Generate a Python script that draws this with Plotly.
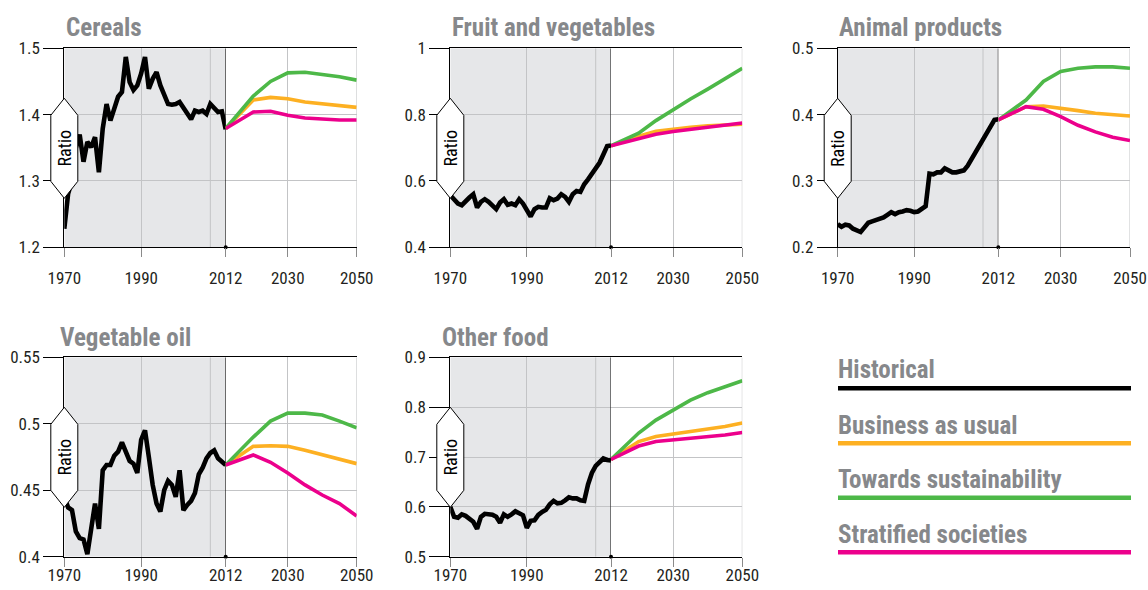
import plotly.graph_objects as go

# ---------------------------------------------------------------- data
hist_years = list(range(1970, 2013))
proj_years = [2012, 2020, 2025, 2030, 2035, 2040, 2045, 2050]

cereals_hist = [1.228, 1.281, 1.300, 1.350, 1.370, 1.329, 1.359, 1.351, 1.366, 1.313,
                1.379, 1.416, 1.391, 1.409, 1.427, 1.434, 1.487, 1.449, 1.437, 1.444,
                1.462, 1.487, 1.439, 1.454, 1.464, 1.444, 1.432, 1.416, 1.415, 1.416,
                1.419, 1.411, 1.401, 1.393, 1.406, 1.404, 1.406, 1.401, 1.416, 1.409,
                1.404, 1.405, 1.378]
cereals_bau = [1.379, 1.422, 1.426, 1.424, 1.419, 1.416, 1.413, 1.411]
cereals_sus = [1.379, 1.428, 1.450, 1.463, 1.464, 1.461, 1.457, 1.452]
cereals_strat = [1.379, 1.404, 1.405, 1.399, 1.395, 1.393, 1.392, 1.392]

fruitveg_hist = [0.557, 0.545, 0.532, 0.527, 0.540, 0.550, 0.560, 0.520, 0.537, 0.545,
                 0.537, 0.525, 0.515, 0.535, 0.545, 0.528, 0.532, 0.527, 0.545, 0.532,
                 0.515, 0.493, 0.515, 0.522, 0.520, 0.520, 0.548, 0.542, 0.547, 0.560,
                 0.552, 0.537, 0.560, 0.570, 0.567, 0.590, 0.605, 0.622, 0.640, 0.655,
                 0.680, 0.705, 0.707]
fruitveg_bau = [0.706, 0.735, 0.750, 0.757, 0.762, 0.766, 0.769, 0.771]
fruitveg_sus = [0.706, 0.744, 0.782, 0.816, 0.847, 0.877, 0.908, 0.940]
fruitveg_strat = [0.706, 0.728, 0.741, 0.749, 0.756, 0.763, 0.769, 0.775]

animal_hist = [0.235, 0.231, 0.234, 0.233, 0.228, 0.225, 0.223, 0.230, 0.237, 0.239,
               0.241, 0.242, 0.245, 0.249, 0.253, 0.250, 0.253, 0.254, 0.256, 0.255,
               0.253, 0.254, 0.258, 0.262, 0.311, 0.310, 0.313, 0.313, 0.319, 0.315,
               0.313, 0.313, 0.314, 0.316, 0.323, 0.333, 0.342, 0.355, 0.362, 0.374,
               0.383, 0.392, 0.393]
animal_bau = [0.392, 0.412, 0.413, 0.410, 0.406, 0.402, 0.400, 0.398]
animal_sus = [0.392, 0.422, 0.450, 0.465, 0.470, 0.472, 0.472, 0.470]
animal_strat = [0.392, 0.412, 0.408, 0.397, 0.384, 0.374, 0.366, 0.361]

vegoil_hist = [0.445, 0.437, 0.435, 0.419, 0.414, 0.413, 0.402, 0.420, 0.440, 0.421,
               0.465, 0.469, 0.469, 0.476, 0.479, 0.486, 0.479, 0.472, 0.470, 0.463,
               0.488, 0.495, 0.475, 0.454, 0.440, 0.434, 0.450, 0.457, 0.454, 0.445,
               0.465, 0.435, 0.439, 0.442, 0.448, 0.462, 0.467, 0.474, 0.478, 0.480,
               0.474, 0.472, 0.469]
vegoil_bau = [0.469, 0.483, 0.4835, 0.483, 0.480, 0.4765, 0.473, 0.470]
vegoil_sus = [0.469, 0.490, 0.502, 0.508, 0.508, 0.5066, 0.502, 0.497]
vegoil_strat = [0.469, 0.4765, 0.471, 0.463, 0.454, 0.4464, 0.440, 0.4306]

other_hist = [0.600, 0.580, 0.578, 0.585, 0.582, 0.576, 0.570, 0.556, 0.580, 0.586,
              0.586, 0.584, 0.580, 0.568, 0.585, 0.580, 0.585, 0.591, 0.587, 0.583,
              0.558, 0.572, 0.573, 0.584, 0.590, 0.594, 0.605, 0.612, 0.607, 0.608,
              0.613, 0.619, 0.617, 0.617, 0.613, 0.612, 0.645, 0.668, 0.682, 0.690,
              0.697, 0.694, 0.693]
other_bau = [0.695, 0.731, 0.741, 0.746, 0.751, 0.756, 0.761, 0.768]
other_sus = [0.695, 0.748, 0.774, 0.794, 0.814, 0.829, 0.841, 0.853]
other_strat = [0.695, 0.722, 0.731, 0.734, 0.738, 0.741, 0.744, 0.749]

panel_titles = ["Cereals", "Fruit and vegetables", "Animal products",
                "Vegetable oil", "Other food"]
y_ticks = [[1.2, 1.3, 1.4, 1.5], [0.4, 0.6, 0.8, 1.0], [0.2, 0.3, 0.4, 0.5],
           [0.4, 0.45, 0.5, 0.55], [0.5, 0.6, 0.7, 0.8, 0.9]]
y_ticktext = [["1.2", "1.3", "1.4", "1.5"], ["0.4", "0.6", "0.8", "1"],
              ["0.2", "0.3", "0.4", "0.5"], ["0.4", "0.45", "0.5", "0.55"],
              ["0.5", "0.6", "0.7", "0.8", "0.9"]]
hist_ticks = [1970, 1990, 2012]
proj_ticks = [2030, 2050]
series_names = ["Historical", "Business as usual", "Towards sustainability",
                "Stratified societies"]

panel_series = [
    (cereals_hist, cereals_bau, cereals_sus, cereals_strat),
    (fruitveg_hist, fruitveg_bau, fruitveg_sus, fruitveg_strat),
    (animal_hist, animal_bau, animal_sus, animal_strat),
    (vegoil_hist, vegoil_bau, vegoil_sus, vegoil_strat),
    (other_hist, other_bau, other_sus, other_strat),
]

# ---------------------------------------------------------------- styling
W, H = 1148, 590
FONT = "Liberation Sans Narrow, Arial Narrow, Roboto Condensed, Roboto, sans-serif"
GREY_TEXT = "#86888b"
GRID = "#c3c4c6"
SHADE = "#e6e7e9"
COLORS = {"hist": "#000000", "bau": "#fdb022", "sus": "#4db848", "strat": "#ec008c"}


def fx(p):
    return p / W


def fy(p):
    return 1 - p / H


# panel frames in pixels: left edge, 2012 divider, right edge, top, bottom,
# and the extra gap between the time axis and its labels
frames = [
    (64.3, 225.7, 356.7, 48.3, 247.3, 6),
    (450.3, 611.0, 742.3, 48.3, 247.3, 6),
    (837.7, 998.3, 1130.0, 48.3, 247.3, 6),
    (64.3, 225.7, 356.7, 357.3, 556.7, -6),
    (450.3, 611.0, 742.3, 357.3, 556.7, -6),
]
title_pos = [(64, 27), (450, 27), (837, 27), (58, 337), (440, 337)]

fig = go.Figure()
shapes, annotations = [], []
layout = {}

for i, (L, B, R, T, Bot, lab_gap) in enumerate(frames):
    xh = "x" if i == 0 else f"x{2 * i + 1}"
    xp = f"x{2 * i + 2}"
    yy = "y" if i == 0 else f"y{i + 1}"
    xh_key = "xaxis" if i == 0 else f"xaxis{2 * i + 1}"
    xp_key = f"xaxis{2 * i + 2}"
    y_key = "yaxis" if i == 0 else f"yaxis{i + 1}"
    ymin, ymax = y_ticks[i][0], y_ticks[i][-1]

    xcommon = dict(
        anchor=yy, showline=True, mirror=True, linecolor="black", linewidth=1,
        showgrid=True, gridcolor=GRID, gridwidth=1, zeroline=False,
        ticks="outside", ticklen=9, tickcolor="#8a8a8a", tickwidth=1,
        ticklabelstandoff=lab_gap,
        tickfont=dict(family=FONT, size=17, color="#231f20"),
        automargin=False, fixedrange=True,
    )
    layout[xh_key] = dict(xcommon, domain=[fx(L), fx(B)], range=[1970, 2012],
                          tickvals=hist_ticks, ticktext=[str(t) for t in hist_ticks])
    layout[xp_key] = dict(xcommon, domain=[fx(B), fx(R)], range=[2012, 2050],
                          tickvals=proj_ticks, ticktext=[str(t) for t in proj_ticks])
    layout[y_key] = dict(
        anchor=xh, domain=[fy(Bot), fy(T)], range=[ymin, ymax],
        tickvals=y_ticks[i], ticktext=y_ticktext[i],
        showline=True, linecolor="black", linewidth=1,
        showgrid=True, gridcolor=GRID, gridwidth=1, zeroline=False,
        ticks="outside", ticklen=20, tickcolor="black", tickwidth=1,
        tickfont=dict(family=FONT, size=17, color="#231f20"),
        automargin=False, fixedrange=True,
    )

    hist, bau, sus, strat = panel_series[i]
    for vals, key in ((bau, "bau"), (sus, "sus"), (strat, "strat")):
        fig.add_trace(go.Scatter(x=proj_years, y=vals, xaxis=xp, yaxis=yy,
                                 mode="lines", line=dict(color=COLORS[key], width=3.6),
                                 showlegend=False, hoverinfo="skip"))
    fig.add_trace(go.Scatter(x=hist_years, y=hist, xaxis=xh, yaxis=yy,
                             mode="lines", line=dict(color=COLORS["hist"], width=4.6),
                             showlegend=False, hoverinfo="skip"))
    # base-year marker on the time axis
    fig.add_trace(go.Scatter(x=[2012], y=[ymin], xaxis=xh, yaxis=yy, mode="markers",
                             marker=dict(color="black", size=4), cliponaxis=False,
                             showlegend=False, hoverinfo="skip"))

    # shaded historical period
    shapes.append(dict(type="rect", xref=xh, yref=yy, x0=1970, x1=2012,
                       y0=ymin, y1=ymax, fillcolor=SHADE, line=dict(width=0),
                       layer="below"))
    shapes.append(dict(type="line", xref=xh, yref=yy, x0=2008, x1=2008,
                       y0=ymin, y1=ymax, line=dict(color=GRID, width=1),
                       layer="between"))
    # base-year divider and right frame edge
    shapes.append(dict(type="line", xref=xh, yref=yy, x0=2012, x1=2012,
                       y0=ymin, y1=ymax, line=dict(color="black", width=1),
                       layer="between"))
    shapes.append(dict(type="line", xref=xp, yref=yy, x0=2050, x1=2050,
                       y0=ymin, y1=ymax, line=dict(color=GRID, width=1),
                       layer="between"))

    # "Ratio" double-headed arrow badge on the value axis
    hw = 13.5
    pts = [(L, T + 50), (L + hw, T + 67), (L + hw, T + 133), (L, T + 150),
           (L - hw, T + 133), (L - hw, T + 67)]
    path = "M " + " L ".join(f"{fx(a):.5f},{fy(b):.5f}" for a, b in pts) + " Z"
    shapes.append(dict(type="path", xref="paper", yref="paper", path=path,
                       fillcolor="white", line=dict(color="black", width=1),
                       layer="above"))
    annotations.append(dict(xref="paper", yref="paper", x=fx(L), y=fy(T + 100),
                            text="Ratio", textangle=-90, showarrow=False,
                            xanchor="center", yanchor="middle",
                            font=dict(family=FONT, size=18, color="black")))

    tx, ty = title_pos[i]
    annotations.append(dict(xref="paper", yref="paper", x=fx(tx), y=fy(ty),
                            text=panel_titles[i], showarrow=False,
                            xanchor="left", yanchor="middle",
                            font=dict(family=FONT, size=25, color=GREY_TEXT,
                                      weight="bold")))

# ---------------------------------------------------------------- key
key_colors = [COLORS["hist"], COLORS["bau"], COLORS["sus"], COLORS["strat"]]
key_text_y = [369.5, 425.0, 479.0, 534.0]
key_line_y = [388.3, 443.3, 497.7, 552.3]
for name, col, ty, ly in zip(series_names, key_colors, key_text_y, key_line_y):
    annotations.append(dict(xref="paper", yref="paper", x=fx(836), y=fy(ty),
                            text=name, showarrow=False, xanchor="left",
                            yanchor="middle",
                            font=dict(family=FONT, size=25, color=GREY_TEXT,
                                      weight="bold")))
    shapes.append(dict(type="line", xref="paper", yref="paper", x0=fx(838),
                       x1=fx(1131), y0=fy(ly), y1=fy(ly),
                       line=dict(color=col, width=4.5), layer="above"))

fig.update_layout(
    width=W, height=H,
    margin=dict(l=0, r=0, t=0, b=0, autoexpand=False),
    paper_bgcolor="white", plot_bgcolor="white",
    showlegend=False, hovermode=False,
    shapes=shapes, annotations=annotations,
    **layout,
)

fig.write_html("out.html", config={"displayModeBar": False})
